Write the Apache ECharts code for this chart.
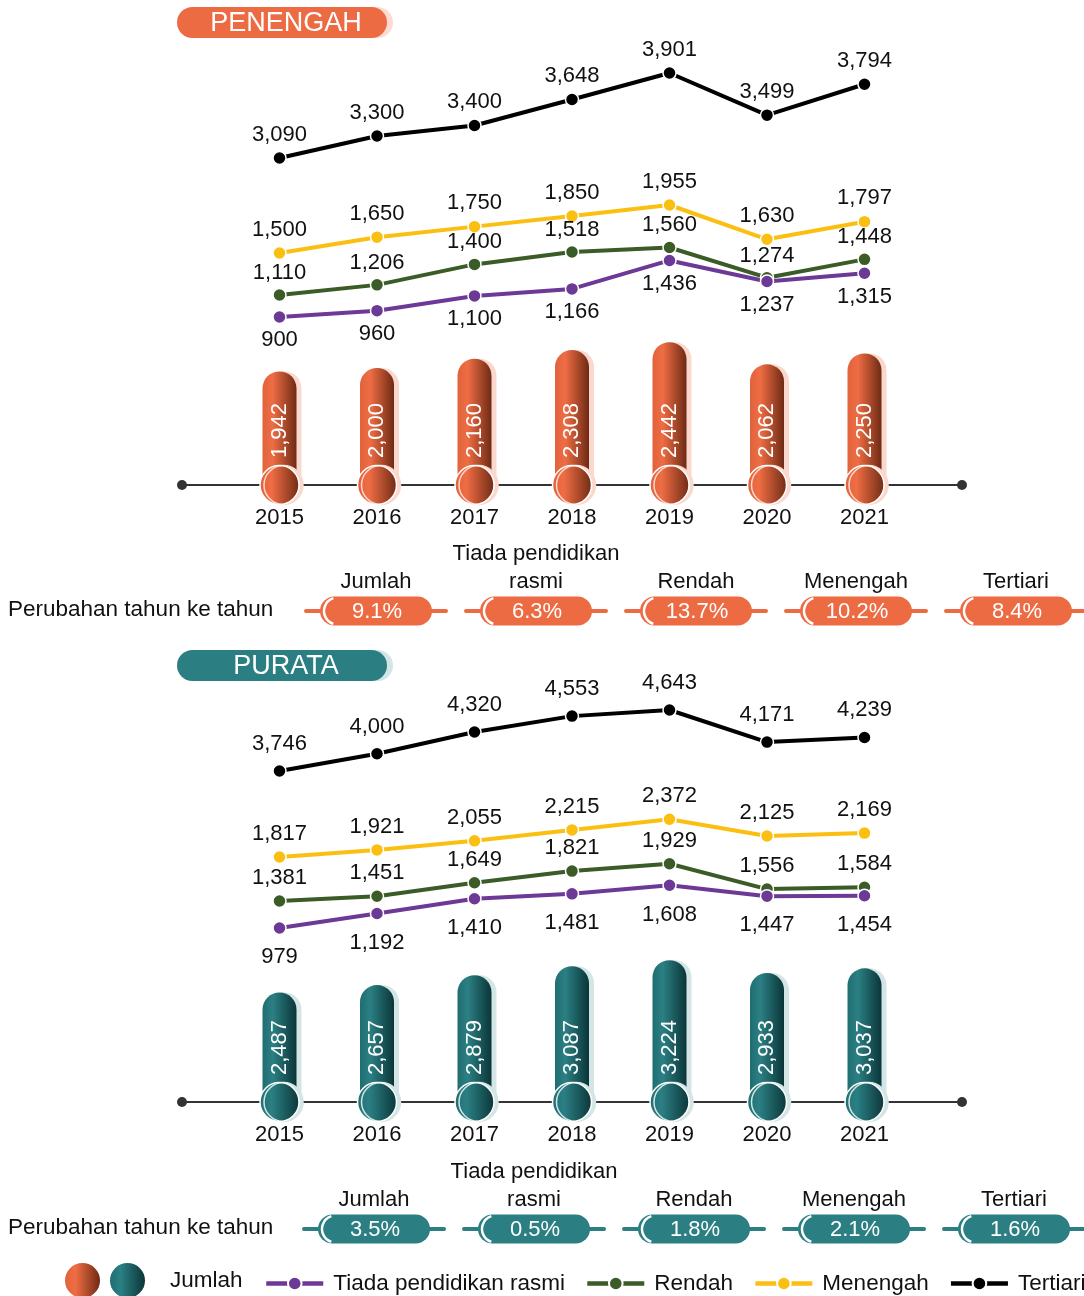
<!DOCTYPE html>
<html><head><meta charset="utf-8">
<script src="https://cdn.jsdelivr.net/npm/echarts@6/dist/echarts.min.js"></script>
<style>html,body{margin:0;padding:0;background:#fff}#c{width:1084px;height:1296px}</style>
</head><body><div id="c"></div>
<script>
// ---------------- DATA ----------------
const years = [2015, 2016, 2017, 2018, 2019, 2020, 2021];
const penengahJumlah    = [1942, 2000, 2160, 2308, 2442, 2062, 2250];
const penengahTiada     = [900, 960, 1100, 1166, 1436, 1237, 1315];
const penengahRendah    = [1110, 1206, 1400, 1518, 1560, 1274, 1448];
const penengahMenengah  = [1500, 1650, 1750, 1850, 1955, 1630, 1797];
const penengahTertiari  = [3090, 3300, 3400, 3648, 3901, 3499, 3794];
const purataJumlah      = [2487, 2657, 2879, 3087, 3224, 2933, 3037];
const purataTiada       = [979, 1192, 1410, 1481, 1608, 1447, 1454];
const purataRendah      = [1381, 1451, 1649, 1821, 1929, 1556, 1584];
const purataMenengah    = [1817, 1921, 2055, 2215, 2372, 2125, 2169];
const purataTertiari    = [3746, 4000, 4320, 4553, 4643, 4171, 4239];
const changeCategories  = ['Jumlah', 'Tiada pendidikan\nrasmi', 'Rendah', 'Menengah', 'Tertiari'];
const penengahChange    = [9.1, 6.3, 13.7, 10.2, 8.4];
const purataChange      = [3.5, 0.5, 1.8, 2.1, 1.6];
const seriesNames = ['Tiada pendidikan rasmi', 'Rendah', 'Menengah', 'Tertiari'];

// ---------------- STYLE ----------------
const FONT = '"Liberation Sans", Arial, Helvetica, sans-serif';
const C_ORANGE = '#ec6b43', C_TEAL = '#2b7e82';
const C_TIADA = '#6c3996', C_RENDAH = '#3b5b27', C_MENENGAH = '#fbbf12', C_TERTIARI = '#000000';
const FS = 22;
const fmt = v => Number(v).toLocaleString('en-US');

const grids = [], xAxes = [], yAxes = [], series = [];

function addGrid(top, height, yMin, yMax, xOpts) {
  const i = grids.length;
  grids.push({left: 182, right: 122, top: top, height: height, outerBoundsMode: 'none', containLabel: false});
  xAxes.push(Object.assign({gridIndex: i, type: 'value', min: 2014, max: 2022, interval: 1, show: false}, xOpts || {}));
  yAxes.push({gridIndex: i, type: 'value', min: yMin, max: yMax, show: false});
  return i;
}
function lineGrid(anchorV, anchorY, scale, yMin, yMax) {
  return addGrid(anchorY - (yMax - anchorV) * scale, (yMax - yMin) * scale, yMin, yMax);
}
function addLine(gi, name, values, color, pos, dist) {
  series.push({
    type: 'line', name: name, xAxisIndex: gi, yAxisIndex: gi, clip: false,
    data: years.map((y, k) => [y, values[k]]),
    symbol: 'circle', symbolSize: 13,
    lineStyle: {width: 4, color: color},
    itemStyle: {color: color, borderColor: '#fff', borderWidth: 1.5},
    label: {show: true, position: pos, distance: dist, fontSize: FS, color: '#111', fontFamily: FONT,
            formatter: p => fmt(p.value[1])},
    z: 3
  });
}
function axisOpts() {
  return {
    show: true,
    axisLine: {show: true, symbol: ['circle', 'circle'], symbolSize: [10, 10], lineStyle: {color: '#333', width: 2}},
    axisTick: {show: false}, splitLine: {show: false},
    axisLabel: {show: true, margin: 22, fontSize: FS, color: '#111', fontFamily: FONT,
                formatter: v => (years.indexOf(v) >= 0 ? String(v) : '')}
  };
}
function addBars(baseY, scale, yMax, name, values, c1, c2, c3, shadow) {
  const gi = addGrid(baseY - yMax * scale, yMax * scale, 0, yMax, axisOpts());
  const grad = () => new echarts.graphic.LinearGradient(0, 0, 1, 0, [
    {offset: 0, color: c1}, {offset: 0.3, color: c2}, {offset: 1, color: c3}]);
  series.push({
    type: 'bar', name: name, xAxisIndex: gi, yAxisIndex: gi,
    data: years.map((y, k) => [y, values[k]]), barWidth: 34,
    itemStyle: {color: grad(), borderRadius: [17, 17, 0, 0], shadowColor: shadow, shadowOffsetX: 5, shadowBlur: 0},
    label: {show: true, position: 'insideBottom', rotate: 90, align: 'left', verticalAlign: 'middle',
            distance: 27, color: '#fff', fontSize: FS, fontFamily: FONT, formatter: p => fmt(p.value[1])},
    z: 2
  });
  series.push({
    type: 'scatter', name: name, xAxisIndex: gi, yAxisIndex: gi, clip: false, silent: true,
    data: years.map(y => [y, 0]), symbolSize: 39,
    itemStyle: {color: grad(), opacity: 1, borderColor: '#fff', borderWidth: 1.5, shadowColor: shadow, shadowOffsetX: 4, shadowBlur: 0},
    z: 4
  });
}
function addBadges(centerY, left, name, values, color) {
  const i = grids.length;
  grids.push({left: left, right: 1084 - (left + 640), top: centerY - 14.5, height: 29, outerBoundsMode: 'none', containLabel: false});
  xAxes.push({gridIndex: i, type: 'value', min: 0, max: 4, interval: 1, position: 'top',
    axisLine: {show: false}, axisTick: {show: false}, splitLine: {show: false},
    axisLabel: {show: true, margin: 1, fontSize: FS, lineHeight: 28, color: '#111', fontFamily: FONT,
                formatter: v => changeCategories[v] || ''}});
  yAxes.push({gridIndex: i, type: 'value', min: -1, max: 1, show: false});
  series.push({
    type: 'custom', name: name, xAxisIndex: i, yAxisIndex: i, clip: false, silent: true,
    data: values.map((v, k) => [k, v]),
    renderItem: function (params, api) {
      const c = api.coord([api.value(0), 0]);
      const cx = c[0], cy = c[1];
      return {type: 'group', children: [
        {type: 'line', shape: {x1: cx - 70, y1: cy, x2: cx + 70, y2: cy}, style: {stroke: color, lineWidth: 4, lineCap: 'round'}},
        {type: 'rect', shape: {x: cx - 56, y: cy - 14.5, width: 112, height: 29, r: 14.5}, style: {fill: color}},
        {type: 'arc', shape: {cx: cx - 38.5, cy: cy, r: 13.5, startAngle: Math.PI * 0.6, endAngle: Math.PI * 1.4},
         style: {stroke: '#fff', fill: null, lineWidth: 2.5}},
        {type: 'text', x: cx + 1, y: cy + 1, style: {text: api.value(1).toFixed(1) + '%', fill: '#fff', fontSize: FS,
          fontFamily: FONT, align: 'center', verticalAlign: 'middle'}}
      ]};
    }
  });
}

// ---------------- PANEL 1 : PENENGAH ----------------
addBars(485, 0.0585, 3000, 'Jumlah (Penengah)', penengahJumlah, '#e0623b', '#ef6d44', '#6e2a14', '#fbd8ce');
addLine(lineGrid(3090, 158, 0.1048, 3000, 4000), seriesNames[3], penengahTertiari, C_TERTIARI, 'top', 5);
addLine(lineGrid(1500, 253, 0.1055, 1000, 2000), seriesNames[2], penengahMenengah, C_MENENGAH, 'top', 5);
addLine(lineGrid(1110, 295, 0.1055, 1000, 2000), seriesNames[1], penengahRendah, C_RENDAH, 'top', 4);
addLine(lineGrid(900, 317, 0.1055, 500, 1500), seriesNames[0], penengahTiada, C_TIADA, 'bottom', 5);
addBadges(611, 376, 'Perubahan Penengah', penengahChange, C_ORANGE);

// ---------------- PANEL 2 : PURATA ----------------
addBars(1102, 0.044, 4000, 'Jumlah (Purata)', purataJumlah, '#1f6d71', '#2b8084', '#0b3538', '#d3e5e5');
addLine(lineGrid(3746, 771, 0.068, 3000, 5000), seriesNames[3], purataTertiari, C_TERTIARI, 'top', 9);
addLine(lineGrid(1817, 857, 0.068, 1000, 3000), seriesNames[2], purataMenengah, C_MENENGAH, 'top', 5);
addLine(lineGrid(1381, 901, 0.068, 1000, 3000), seriesNames[1], purataRendah, C_RENDAH, 'top', 5);
addLine(lineGrid(979, 928, 0.068, 0, 2000), seriesNames[0], purataTiada, C_TIADA, 'bottom', 11);
addBadges(1229, 374, 'Perubahan Purata', purataChange, C_TEAL);

function titlePill(y, text, fill, shadow) {
  return {type: 'group', children: [
    {type: 'rect', shape: {x: 183, y: y, width: 210, height: 31, r: 15.5}, style: {fill: shadow}},
    {type: 'rect', shape: {x: 177, y: y, width: 210, height: 31, r: 15.5}, style: {fill: fill}},
    {type: 'text', x: 286, y: y + 16.5, style: {text: text, fill: '#fff', fontSize: 27, fontFamily: FONT,
      align: 'center', verticalAlign: 'middle'}}
  ]};
}
function sideText(y) {
  return {type: 'text', x: 8, y: y, style: {text: 'Perubahan tahun ke tahun', fill: '#111', fontSize: 22.5,
    fontFamily: FONT, align: 'left', verticalAlign: 'middle'}};
}

const option = {
  animation: false,
  backgroundColor: '#fff',
  grid: grids, xAxis: xAxes, yAxis: yAxes, series: series,
  graphic: [
    titlePill(7, 'PENENGAH', C_ORANGE, '#fcdcd2'),
    titlePill(650, 'PURATA', C_TEAL, '#d3e5e5'),
    sideText(610), sideText(1228)
  ],
  legend: [
    {
      data: [{name: 'Jumlah (Penengah)', icon: 'circle'}, {name: 'Jumlah (Purata)', icon: 'circle'}],
      left: 65, top: 1263, padding: 0, orient: 'horizontal', itemWidth: 35, itemHeight: 35, itemGap: 10,
      selectedMode: false,
      formatter: n => (n === 'Jumlah (Purata)' ? 'Jumlah' : ''),
      textStyle: {fontSize: 22.5, color: '#111', fontFamily: FONT, padding: [0, 0, 0, 20]}
    },
    {
      data: seriesNames, left: 264, top: 1272, padding: 0, width: 840, orient: 'horizontal',
      itemWidth: 57, itemHeight: 17, itemGap: 20,
      selectedMode: false,
      lineStyle: {width: 4.5},
      textStyle: {fontSize: 22.5, color: '#111', fontFamily: FONT, padding: [0, 0, 0, 5]}
    }
  ]
};
const chart = echarts.init(document.getElementById('c'), null, {renderer: 'canvas'});
chart.setOption(option);
</script></body></html>
